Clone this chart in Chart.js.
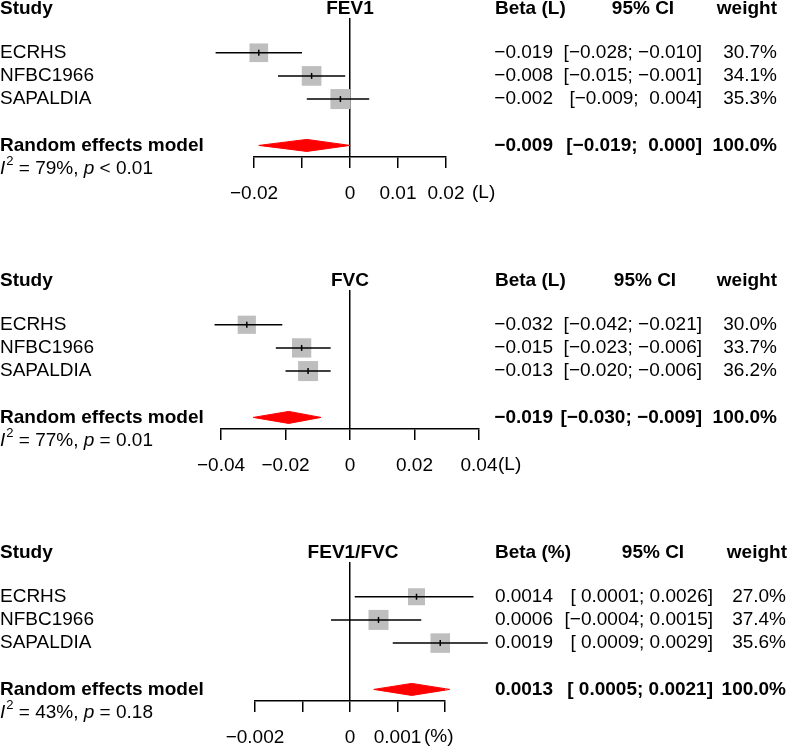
<!DOCTYPE html>
<html>
<head>
<meta charset="utf-8">
<script src="https://cdn.jsdelivr.net/npm/chart.js@4.4.0/dist/chart.umd.min.js"></script>
<style>
body { margin: 0; background: #fff; }
canvas { position: absolute; left: 0; }
</style>
</head>
<body>
<canvas id="fev1" width="787" height="202" style="top:0px"></canvas>
<canvas id="fvc" width="787" height="202" style="top:272px"></canvas>
<canvas id="ratio" width="787" height="202" style="top:544px"></canvas>
<script>
const studies = ['ECRHS', 'NFBC1966', 'SAPALDIA'];

// FEV1 (L)
const fev1Beta = [-0.019, -0.008, -0.002];
const fev1Lower = [-0.028, -0.015, -0.009];
const fev1Upper = [-0.010, -0.001, 0.004];
const fev1Weight = [30.7, 34.1, 35.3];
const fev1Random = [-0.009, -0.019, 0.000]; // estimate, lower, upper
const fev1Het = ['79%', '< 0.01'];
const fev1Ticks = ['\u22120.02', '', '0', '0.01', '0.02'];

// FVC (L)
const fvcBeta = [-0.032, -0.015, -0.013];
const fvcLower = [-0.042, -0.023, -0.020];
const fvcUpper = [-0.021, -0.006, -0.006];
const fvcWeight = [30.0, 33.7, 36.2];
const fvcRandom = [-0.019, -0.030, -0.009];
const fvcHet = ['77%', '= 0.01'];
const fvcTicks = ['\u22120.04', '\u22120.02', '0', '0.02', '0.04'];

// FEV1/FVC (%)
const ratioBeta = [0.0014, 0.0006, 0.0019];
const ratioLower = [0.0001, -0.0004, 0.0009];
const ratioUpper = [0.0026, 0.0015, 0.0029];
const ratioWeight = [27.0, 37.4, 35.6];
const ratioRandom = [0.0013, 0.0005, 0.0021];
const ratioHet = ['43%', '= 0.18'];
const ratioTicks = ['\u22120.002', '', '0', '0.001', ''];

const FONT = '19px "Liberation Sans", Arial, sans-serif';
const RANDOM_ROW = 5;
const LW = 1.5;

function fmt(v, d, pad) {
  const s = Math.abs(v).toFixed(d);
  const neg = v < 0 && Number(s) !== 0;
  return (neg ? '\u2212' : (pad ? ' ' : '')) + s;
}

function makePanel(id, p) {
  const lowAll = p.lower.concat([p.random[1]]);
  const upAll = p.upper.concat([p.random[2]]);
  const padLow = lowAll.some(v => v < 0);
  const padUp = upAll.some(v => v < 0);
  const ci = (lo, hi) => '[' + fmt(lo, p.dec, padLow) + '; ' + fmt(hi, p.dec, padUp) + ']';
  const maxW = Math.max(...p.weight);

  const datasets = [];
  // CI lines
  studies.forEach((s, i) => {
    datasets.push({
      type: 'line', data: [{x: p.lower[i], y: i + 1}, {x: p.upper[i], y: i + 1}],
      borderColor: '#000', borderWidth: LW, pointRadius: 0, clip: false, order: 2
    });
  });
  // weighted squares
  datasets.push({
    type: 'scatter', data: p.beta.map((b, i) => ({x: b, y: i + 1})),
    pointStyle: 'rect', backgroundColor: '#bebebe', borderWidth: 0,
    pointRadius: c => 20 * Math.sqrt(p.weight[c.dataIndex] / maxW) / Math.SQRT2,
    clip: false, order: 3
  });
  // estimate marks
  datasets.push({
    type: 'scatter', data: p.beta.map((b, i) => ({x: b, y: i + 1})),
    pointStyle: 'line', rotation: 90, pointRadius: 3, borderColor: '#000', borderWidth: LW,
    clip: false, order: 1
  });
  // pooled diamond
  const [est, lo, hi] = p.random;
  const h = 0.26;
  datasets.push({
    type: 'line',
    data: [{x: lo, y: RANDOM_ROW}, {x: est, y: RANDOM_ROW - h}, {x: hi, y: RANDOM_ROW}, {x: est, y: RANDOM_ROW + h}, {x: lo, y: RANDOM_ROW}],
    borderColor: '#ff0000', backgroundColor: '#ff0000', borderWidth: 1, fill: 'shape',
    pointRadius: 0, tension: 0, clip: false, order: 2
  });

  const forestText = {
    id: 'forestText',
    afterDraw(chart) {
      const ctx = chart.ctx;
      const ys = chart.scales.y;
      const row = r => ys.getPixelForValue(r);
      ctx.save();
      ctx.fillStyle = '#000';
      ctx.textBaseline = 'middle';
      const txt = (s, x, r, align, bold) => {
        ctx.font = (bold ? 'bold ' : '') + FONT;
        ctx.textAlign = align;
        ctx.fillText(s, x, row(r));
      };
      const hr = -0.9;
      txt('Study', 0, hr, 'left', true);
      txt(p.title, p.titleX, hr, 'center', true);
      txt(p.betaLabel, 495, hr, 'left', true);
      txt('95% CI', p.ciHeadX, hr, 'center', true);
      txt('weight', p.weightHeadX, hr, 'right', true);

      studies.forEach((s, i) => {
        txt(s, 0, i + 1, 'left', false);
        txt(fmt(p.beta[i], p.dec, false), 553, i + 1, 'right', false);
        txt(ci(p.lower[i], p.upper[i]), p.ciX, i + 1, 'right', false);
        txt(p.weight[i].toFixed(1) + '%', p.weightX, i + 1, 'right', false);
      });

      txt('Random effects model', 0, RANDOM_ROW, 'left', true);
      txt(fmt(est, p.dec, false), 553, RANDOM_ROW, 'right', true);
      txt(ci(lo, hi), p.ciX, RANDOM_ROW, 'right', true);
      txt('100.0%', p.weightX, RANDOM_ROW, 'right', true);

      // heterogeneity line
      const yy = row(6);
      ctx.textAlign = 'left';
      let x = 0;
      ctx.font = 'italic ' + FONT;
      ctx.fillText('I', x, yy);
      x += ctx.measureText('I').width + 1;
      ctx.font = '13px "Liberation Sans", Arial, sans-serif';
      ctx.fillText('2', x, yy - 7);
      x += ctx.measureText('2').width;
      ctx.font = FONT;
      const part = ' = ' + p.het[0] + ', ';
      ctx.fillText(part, x, yy);
      x += ctx.measureText(part).width;
      ctx.font = 'italic ' + FONT;
      ctx.fillText('p', x, yy);
      x += ctx.measureText('p').width;
      ctx.font = FONT;
      ctx.fillText(' ' + p.het[1], x, yy);

      // unit next to the axis
      ctx.fillText(p.unit, p.unitX, row(7.05));
      ctx.restore();
    }
  };

  new Chart(document.getElementById(id), {
    type: 'scatter',
    data: {datasets: datasets},
    options: {
      responsive: false,
      animation: false,
      events: [],
      layout: {padding: {left: p.left, right: 787 - p.right, top: 18, bottom: 0}},
      plugins: {legend: {display: false}, tooltip: {enabled: false}},
      scales: {
        x: {
          type: 'linear', position: 'bottom',
          min: p.min, max: p.max,
          afterFit(scale) { scale.height = 45; },
          border: {display: true, color: '#000', width: LW},
          grid: {
            drawOnChartArea: true, drawTicks: true, tickLength: 11,
            color: c => (c.tick && Math.abs(c.tick.value) < 1e-12) ? '#000' : 'rgba(0,0,0,0)',
            tickColor: '#000', lineWidth: LW, tickWidth: LW
          },
          ticks: {
            stepSize: p.step, autoSkip: false, maxRotation: 0, padding: 14,
            color: '#000', font: {family: '"Liberation Sans", Arial, sans-serif', size: 19},
            callback: (v, i) => p.ticks[i]
          }
        },
        y: {type: 'linear', display: false, reverse: true, min: -0.5, max: 5.5}
      }
    },
    plugins: [forestText]
  });
}

makePanel('fev1', {
  title: 'FEV1', titleX: 350, betaLabel: 'Beta (L)', unit: '(L)', unitX: 472,
  beta: fev1Beta, lower: fev1Lower, upper: fev1Upper, weight: fev1Weight,
  random: fev1Random, het: fev1Het, ticks: fev1Ticks, dec: 3,
  min: -0.02, max: 0.02, step: 0.01, left: 254, right: 446,
  ciX: 702, ciHeadX: 643, weightX: 777, weightHeadX: 777
});

makePanel('fvc', {
  title: 'FVC', titleX: 350, betaLabel: 'Beta (L)', unit: '(L)', unitX: 498,
  beta: fvcBeta, lower: fvcLower, upper: fvcUpper, weight: fvcWeight,
  random: fvcRandom, het: fvcHet, ticks: fvcTicks, dec: 3,
  min: -0.04, max: 0.04, step: 0.02, left: 221, right: 479,
  ciX: 702, ciHeadX: 645, weightX: 777, weightHeadX: 777
});

makePanel('ratio', {
  title: 'FEV1/FVC', titleX: 353, betaLabel: 'Beta (%)', unit: '(%)', unitX: 424,
  beta: ratioBeta, lower: ratioLower, upper: ratioUpper, weight: ratioWeight,
  random: ratioRandom, het: ratioHet, ticks: ratioTicks, dec: 4,
  min: -0.002, max: 0.002, step: 0.001, left: 255, right: 445,
  ciX: 713, ciHeadX: 653, weightX: 786, weightHeadX: 787
});
</script>
</body>
</html>
